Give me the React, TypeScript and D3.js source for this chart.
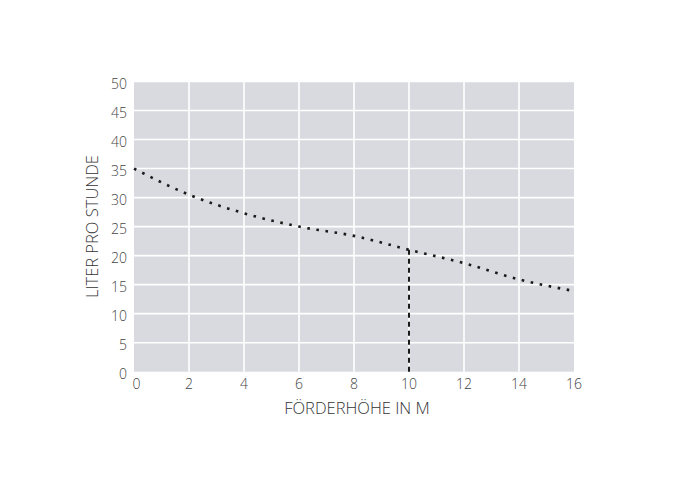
import React from "react";
import * as d3 from "d3";

const heads = [0, 2, 4, 6, 8, 10, 12, 14, 16];
const litersPerHour = [35, 30.5, 27.3, 25, 23.4, 21, 18.7, 15.9, 13.9];
const xTicks = [0, 2, 4, 6, 8, 10, 12, 14, 16];
const yTicks = [0, 5, 10, 15, 20, 25, 30, 35, 40, 45, 50];
const markerHead = 10;
const markerValue = 21;

export default function App() {
  const W = 689, H = 487;
  const left = 134, right = 574, top = 81.5, bottom = 371.7;
  const x = d3.scaleLinear().domain([0, 16]).range([left, right]);
  const y = d3.scaleLinear().domain([0, 50]).range([bottom, top]);
  const pts = heads.map((h, i) => [h, litersPerHour[i]] as [number, number]);
  const line = d3.line<[number, number]>().x(d => x(d[0])).y(d => y(d[1])).curve(d3.curveMonotoneX);
  const font = "'Open Sans', sans-serif";
  return (
    <svg width={W} height={H} style={{ position: "absolute", left: 0, top: 0, background: "#fff" }}>
      <rect x={left} y={top} width={right - left} height={bottom - top} fill="#d9dadf" />
      {xTicks.filter(t => t > 0 && t < 16).map(t => (
        <line key={"gx" + t} x1={x(t)} x2={x(t)} y1={top} y2={bottom} stroke="#fff" strokeWidth={1.6} />
      ))}
      {yTicks.filter(t => t > 0).map(t => (
        <line key={"gy" + t} x1={left} x2={right} y1={y(t)} y2={y(t)} stroke="#fff" strokeWidth={1.6} />
      ))}
      <path d={line(pts) || ""} fill="none" stroke="#1a1a1a" strokeWidth={2.6} strokeDasharray="2.6,6.6" />
      <line x1={x(markerHead)} x2={x(markerHead)} y1={y(0)} y2={y(markerValue)} stroke="#1a1a1a" strokeWidth={2} strokeDasharray="5,4" />
      {yTicks.map(t => (
        <text key={"ty" + t} x={127} y={y(t) + 4} textAnchor="end" dominantBaseline="middle" fontFamily={font} fontWeight={300} fontSize={14} fill="#444">{t}</text>
      ))}
      {xTicks.map(t => (
        <text key={"tx" + t} x={x(t) + (t === 0 ? 2.5 : 0)} y={385} textAnchor="middle" dominantBaseline="middle" fontFamily={font} fontWeight={300} fontSize={14} fill="#444">{t}</text>
      ))}
      <text x={357} y={410} textAnchor="middle" dominantBaseline="middle" fontFamily={font} fontWeight={300} fontSize={16.5} fill="#333">FÖRDERHÖHE IN M</text>
      <text transform={`translate(94,${(top + bottom) / 2}) rotate(-90)`} textAnchor="middle" dominantBaseline="middle" fontFamily={font} fontWeight={300} fontSize={16.5} fill="#333">LITER PRO STUNDE</text>
    </svg>
  );
}
